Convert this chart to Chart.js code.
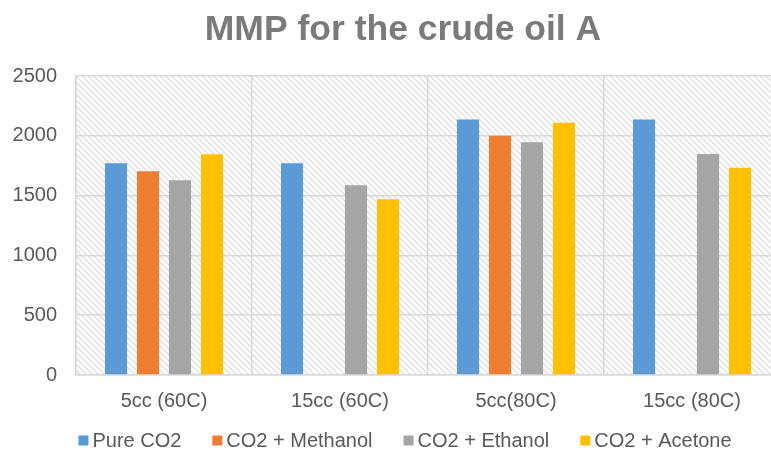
<!DOCTYPE html>
<html>
<head>
<meta charset="utf-8">
<script src="https://cdn.jsdelivr.net/npm/chart.js@4/dist/chart.umd.min.js"></script>
<style>
  html, body { margin: 0; padding: 0; background: #fff; overflow: hidden; }
  #wrap { width: 806px; height: 452px; position: relative; }
</style>
</head>
<body>
<div id="wrap"><canvas id="c" width="806" height="452"></canvas></div>
<script>
// Conditions (slug size and temperature)
const categories = ["5cc (60C)", "15cc (60C)", "5cc(80C)", "15cc (80C)"];

// MMP values per injection gas
const pureCO2     = [1770, 1770, 2137, 2137];
const co2Methanol = [1703, null, 2000, null];
const co2Ethanol  = [1628, 1586, 1947, 1847];
const co2Acetone  = [1845, 1469, 2109, 1733];

const seriesNames = ["Pure CO2", "CO2 + Methanol", "CO2 + Ethanol", "CO2 + Acetone"];
const seriesColors = ["#5b9bd5", "#ed7d31", "#a5a5a5", "#ffc000"];
const yTicks = [0, 500, 1000, 1500, 2000, 2500];
const chartTitle = "MMP for the crude oil A";

const FONT = "'Liberation Sans', Arial, sans-serif";
const TEXT = "#595959";
const GRID = "#d9d9d9";
const FS = 20;

// Diagonal hatch used behind the plot area
function makeHatch() {
  const s = 6;
  const tile = document.createElement("canvas");
  tile.width = s; tile.height = s;
  const g = tile.getContext("2d");
  g.fillStyle = "#ffffff";
  g.fillRect(0, 0, s, s);
  g.strokeStyle = "#dedede";
  g.lineWidth = 1.3;
  g.beginPath();
  g.moveTo(-1, -1); g.lineTo(s + 1, s + 1);
  g.moveTo(-1, s - 1); g.lineTo(1, s + 1);
  g.moveTo(s - 1, -1); g.lineTo(s + 1, 1);
  g.stroke();
  return tile;
}

const hatchPlugin = {
  id: "hatch",
  beforeDraw(chart) {
    const { ctx, chartArea: a } = chart;
    ctx.save();
    ctx.fillStyle = ctx.createPattern(makeHatch(), "repeat");
    ctx.fillRect(a.left, a.top, a.right - a.left, a.bottom - a.top);
    ctx.restore();
  }
};

// Title centred on the full figure width
const titlePlugin = {
  id: "figTitle",
  afterDraw(chart) {
    const ctx = chart.ctx;
    ctx.save();
    ctx.font = "bold 35.5px " + FONT;
    ctx.fillStyle = "#7a7a7a";
    ctx.textAlign = "center";
    ctx.textBaseline = "alphabetic";
    ctx.fillText(chartTitle, chart.width / 2, 40);
    ctx.restore();
  }
};

// Legend drawn as a single centred row with small square markers
const legendPlugin = {
  id: "rowLegend",
  afterDraw(chart) {
    const ctx = chart.ctx;
    const box = 10, gapText = 4, gapItem = 31, y = 440.5;
    ctx.save();
    ctx.font = FS + "px " + FONT;
    ctx.textBaseline = "middle";
    const items = chart.data.datasets.map(d => ({
      label: d.label, color: d.backgroundColor,
      w: box + gapText + ctx.measureText(d.label).width
    }));
    const total = items.reduce((s, it) => s + it.w, 0) + gapItem * (items.length - 1);
    let x = chart.width / 2 + 2 - total / 2;
    items.forEach(it => {
      ctx.fillStyle = it.color;
      ctx.fillRect(x, y - box / 2, box, box);
      ctx.fillStyle = TEXT;
      ctx.textAlign = "left";
      ctx.fillText(it.label, x + box + gapText, y + 1);
      x += it.w + gapItem;
    });
    ctx.restore();
  }
};

const values = [pureCO2, co2Methanol, co2Ethanol, co2Acetone];

new Chart(document.getElementById("c"), {
  type: "bar",
  data: {
    labels: categories,
    datasets: values.map((v, i) => ({
      label: seriesNames[i],
      data: v,
      backgroundColor: seriesColors[i],
      borderWidth: 0,
      categoryPercentage: 0.727,
      barPercentage: 0.69
    }))
  },
  options: {
    responsive: false,
    animation: false,
    layout: { padding: { left: 0, right: 26, top: 76, bottom: 40 } },
    plugins: {
      legend: { display: false },
      tooltip: { enabled: false },
      title: { display: false }
    },
    scales: {
      x: {
        grid: { color: GRID, lineWidth: 1.5, drawTicks: false, offset: true },
        border: { color: GRID, width: 1.5 },
        ticks: { color: TEXT, font: { family: FONT, size: FS }, padding: 14, maxRotation: 0 },
        afterFit(scale) { scale.height = 37; }
      },
      y: {
        min: 0,
        max: 2500,
        afterBuildTicks(scale) { scale.ticks = yTicks.map(v => ({ value: v })); },
        grid: { color: GRID, lineWidth: 1.5, drawTicks: false },
        border: { color: GRID, width: 1.5 },
        ticks: {
          color: TEXT, font: { family: FONT, size: FS }, padding: 19,
          callback: v => String(v)
        },
        afterFit(scale) { scale.width = 76; }
      }
    }
  },
  plugins: [hatchPlugin, titlePlugin, legendPlugin]
});
</script>
</body>
</html>
